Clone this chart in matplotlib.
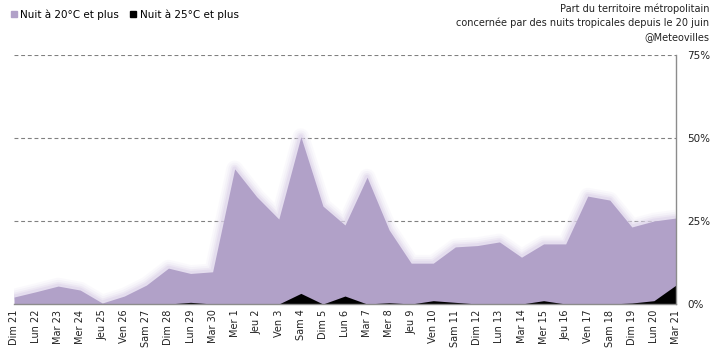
import matplotlib
matplotlib.use("Agg")
import matplotlib.pyplot as plt
from matplotlib.lines import Line2D
import numpy as np

days = ["Dim 21", "Lun 22", "Mar 23", "Mer 24", "Jeu 25", "Ven 26", "Sam 27", "Dim 28",
        "Lun 29", "Mar 30", "Mer 1", "Jeu 2", "Ven 3", "Sam 4", "Dim 5", "Lun 6",
        "Mar 7", "Mer 8", "Jeu 9", "Ven 10", "Sam 11", "Dim 12", "Lun 13", "Mar 14",
        "Mer 15", "Jeu 16", "Ven 17", "Sam 18", "Dim 19", "Lun 20", "Mar 21"]
nuit20 = [2.1, 3.7, 5.4, 4.2, 0.3, 2.4, 5.7, 10.8, 9.2, 9.7, 40.7, 32.3, 25.6, 50.4, 29.5,
          23.8, 38.2, 22.3, 12.3, 12.3, 17.2, 17.6, 18.7, 14.1, 18.1, 18.1, 32.5, 31.3,
          23.2, 25.0, 25.9]
nuit25 = [0, 0, 0, 0, 0, 0, 0, 0, 0.5, 0, 0, 0, 0, 3.2, 0, 2.4, 0, 0.4, 0, 1.0, 0.5, 0,
          0, 0, 1.0, 0, 0, 0, 0.3, 1.0, 5.7]
yticks = [0, 25, 50, 75]
ytick_labels = ["0%", "25%", "50%", "75%"]

purple = "#b1a1c8"
glow = "#ddd3ea"

fig = plt.figure(figsize=(7.14, 3.55), dpi=100)
ax = fig.add_axes([14/714, 1-304/355, (676-14)/714, (304-55)/355])
x = np.arange(len(days))

for yv in yticks[1:]:
    ax.axhline(yv, color="#808080", lw=0.8, ls=(0, (3.5, 2.5)), zorder=1)

for lw, a in [(12, 0.12), (9, 0.18), (6, 0.3), (3.5, 0.5)]:
    ax.plot(x, nuit20, color=glow, lw=lw, alpha=a, solid_joinstyle="round",
            solid_capstyle="butt", zorder=2)
ax.fill_between(x, 0, nuit20, color=purple, lw=0, zorder=3)
ax.fill_between(x, 0, nuit25, color="black", lw=0, zorder=4)

ax.set_xlim(0, len(days) - 1)
ax.set_ylim(0, 75)
ax.set_xticks(x)
ax.set_xticklabels(days, rotation=90, fontsize=7, color="#222222")
ax.yaxis.tick_right()
ax.set_yticks(yticks)
ax.set_yticklabels(ytick_labels, fontsize=7.5, color="#222222")
ax.tick_params(axis="both", length=0)
ax.tick_params(axis="x", pad=4)
ax.tick_params(axis="y", pad=8)
for s in ["top", "left"]:
    ax.spines[s].set_visible(False)
for s in ["bottom", "right"]:
    ax.spines[s].set_color("#8c8c8c")
    ax.spines[s].set_linewidth(1.0)
    ax.spines[s].set_zorder(5)

handles = [Line2D([], [], marker="s", ls="", color=purple, markersize=5),
           Line2D([], [], marker="s", ls="", color="black", markersize=5)]
fig.legend(handles, ["Nuit à 20°C et plus", "Nuit à 25°C et plus"], loc="upper left",
           bbox_to_anchor=(0.0, 1.0), ncol=2, frameon=False, fontsize=7.5,
           handlelength=0.8, handletextpad=0.2, columnspacing=1.0)

fig.text(709/714, 1-4/355,
         "Part du territoire métropolitain\nconcernée par des nuits tropicales depuis le 20 juin\n@Meteovilles",
         ha="right", va="top", fontsize=7, linespacing=1.4, color="#222222")

fig.savefig("out.png", dpi=100)
